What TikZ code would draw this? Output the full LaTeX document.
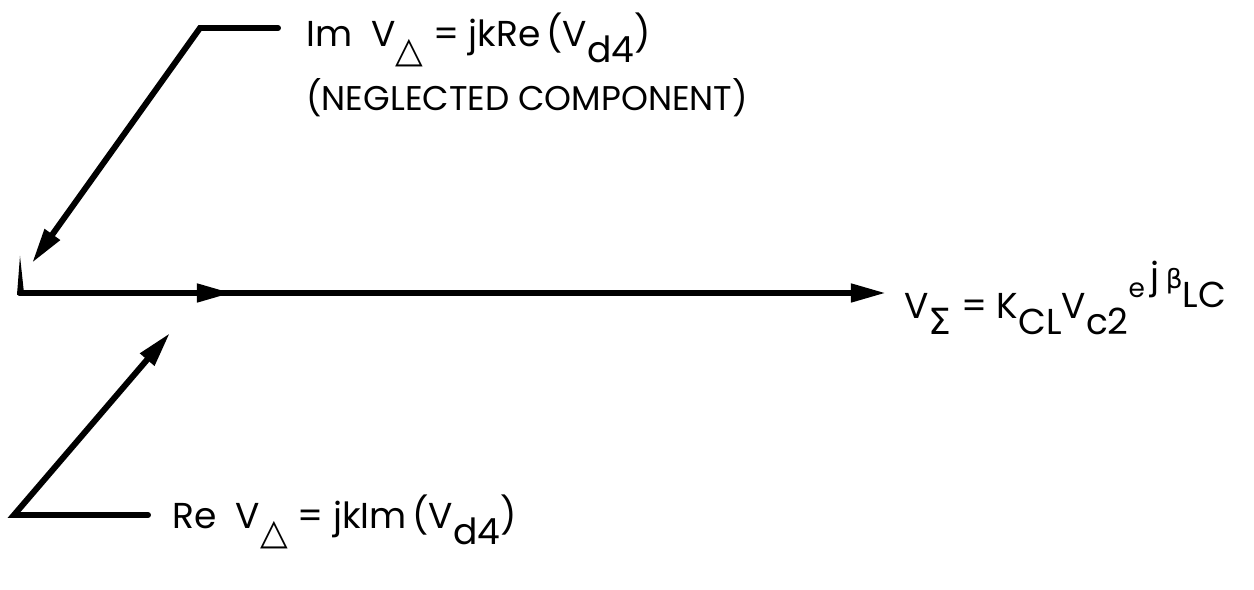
\documentclass[tikz,border=0pt]{standalone}
\usepackage{fontspec}
\setmainfont{Poppins}
\newfontfamily\grk{DejaVu Sans}
\usetikzlibrary{arrows.meta}

\newcommand{\lowsub}[1]{\raisebox{-0.45em}{#1}}
\newcommand{\upby}[2]{\raisebox{#1}{#2}}
\newcommand{\smallsup}{\fontsize{15}{18}\selectfont}

\tikzset{
  vec/.style={line width=3.4pt, line cap=round, line join=miter,
    -{Triangle[length=20pt, width=10pt]}},
  lbl/.style={font=\fontsize{19.5}{23}\selectfont, inner sep=0pt, anchor=west},
  eqlbl/.style={lbl, font=\fontsize{20.5}{24}\selectfont}
}

\begin{document}
\begin{tikzpicture}[x=0.02cm, y=-0.02cm]
  \useasboundingbox (0,0) rectangle (1254,590);
  % points of the vector diagram (pixel grid)
  \coordinate (origin) at (20,293);
  \coordinate (mid) at (232,293);
  \coordinate (sumend) at (886,293);
  \coordinate (imstart) at (278,28);
  \coordinate (imbend) at (200,28);
  \coordinate (imend) at (32,263);
  \coordinate (restart) at (148,515);
  \coordinate (rebend) at (14,515);
  \coordinate (reend) at (170,333);
  \coordinate (spike) at (20,256);

  % sum vector, with arrowhead half way
  \draw[vec] (origin) -- (sumend);
  \draw[vec] (origin) -- (mid);
  % small tip at the origin
  \fill (origin) ++(-3,2) -- (spike) -- ++(4,37) -- cycle;

  % difference components
  \draw[vec] (imstart) -- (imbend) -- (imend);
  \draw[vec] (restart) -- (rebend) -- (reend);

  % labels
  \node[eqlbl] (imlbl) at (306,40) {Im\ \ V\lowsub{\grk △} = jkRe\,(V\lowsub{d4})};
  \node[lbl] (neglbl) at (306,98) {(NEGLECTED COMPONENT)};
  \node[eqlbl] (sumlbl) at (904,298) {V\lowsub{\grk Σ} = K\lowsub{CL}V\lowsub{c2}\upby{0.6em}{\smallsup e}\,\upby{0.85em}{j\,{\grk\smallsup β}}\upby{0.3em}{LC}};
  \node[eqlbl] (relbl) at (172,522) {Re\ \ V\lowsub{\grk △} = jkIm\,(V\lowsub{d4})};
\end{tikzpicture}
\end{document}
